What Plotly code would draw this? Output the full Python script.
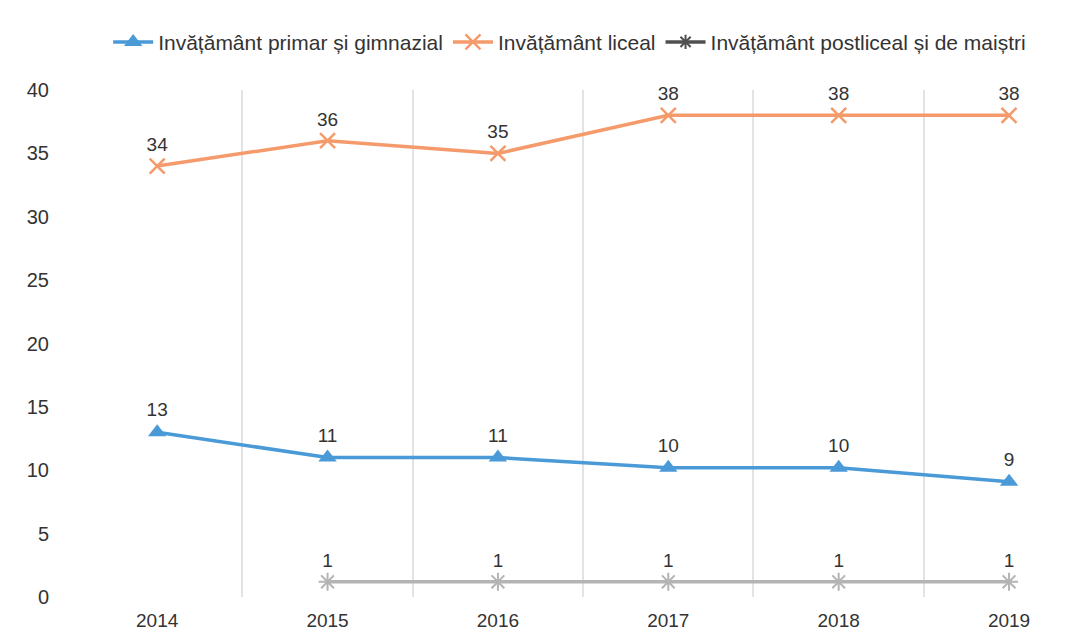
import plotly.graph_objects as go

years = ["2014", "2015", "2016", "2017", "2018", "2019"]
primar = [13.0, 11.0, 11.0, 10.2, 10.2, 9.1]
liceal = [34.0, 36.0, 35.0, 38.0, 38.0, 38.0]
postliceal = [None, 1.2, 1.2, 1.2, 1.2, 1.2]

names = ["Invățământ primar și gimnazial", "Invățământ liceal", "Invățământ postliceal și de maiștri"]
x = list(range(len(years)))

FONT = "Liberation Sans"
TXT = "#333333"

fig = go.Figure()
fig.add_trace(go.Scatter(
    x=x, y=primar, name=names[0], mode="lines+markers+text",
    line=dict(color="#4A9AD8", width=3.5),
    marker=dict(symbol="triangle-up", size=16, color="#4A9AD8"),
    text=[f"{v:.0f}" for v in primar], textposition="top center",
    textfont=dict(size=19, color=TXT, family=FONT), cliponaxis=False,
))
fig.add_trace(go.Scatter(
    x=x, y=liceal, name=names[1], mode="lines+markers+text",
    line=dict(color="#F59A6B", width=3.5),
    marker=dict(symbol="x-thin", size=15, line=dict(color="#F59A6B", width=2.5)),
    text=[f"{v:.0f}" for v in liceal], textposition="top center",
    textfont=dict(size=19, color=TXT, family=FONT), cliponaxis=False,
))
fig.add_trace(go.Scatter(
    x=x, y=postliceal, name=names[2], mode="lines+markers+text",
    line=dict(color="#B4B4B4", width=3.5),
    marker=dict(symbol="asterisk-open", size=15, line=dict(color="#B4B4B4", width=2)),
    text=["" if v is None else f"{v:.0f}" for v in postliceal], textposition="top center",
    textfont=dict(size=19, color=TXT, family=FONT), cliponaxis=False,
    showlegend=False,
))
# legend entry for the third series (darker in the original legend)
fig.add_trace(go.Scatter(
    x=[None], y=[None], name=names[2], mode="lines+markers",
    line=dict(color="#505050", width=3.5),
    marker=dict(symbol="asterisk-open", size=12, line=dict(color="#505050", width=2)),
))

# the page body has an 8px margin, so the figure is sized/offset to compensate
fig.update_layout(
    width=1076, height=624,
    margin=dict(l=64, r=0, t=82, b=35),
    paper_bgcolor="white", plot_bgcolor="white",
    font=dict(family=FONT, size=18, color=TXT),
    showlegend=True,
    legend=dict(orientation="h", x=0.522, xanchor="center", xref="container",
                y=0.978, yanchor="top", yref="container",
                font=dict(size=21, color=TXT), itemwidth=40, tracegroupgap=0,
                bgcolor="rgba(0,0,0,0)"),
    xaxis=dict(
        range=[-0.5, 5.44], tickmode="array", tickvals=x, ticktext=years,
        showgrid=False, zeroline=False, showline=False, ticks="",
        tickfont=dict(size=19, color=TXT), ticklabelstandoff=10,
        minor=dict(tickmode="array", tickvals=[i + 0.5 for i in x[:-1]],
                   showgrid=True, gridcolor="#E3E3E3", gridwidth=1.5, ticks=""),
    ),
    yaxis=dict(
        range=[0, 40], dtick=5, showgrid=False, zeroline=False, showline=False,
        ticks="", tickfont=dict(size=20, color=TXT), ticklabelstandoff=22,
    ),
)

fig.write_html("out.html")
